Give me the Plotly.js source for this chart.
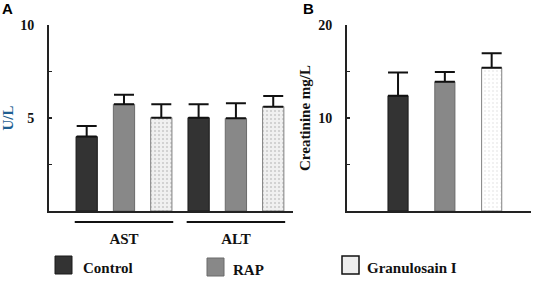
<!DOCTYPE html>
<html><head><meta charset="utf-8">
<script src="https://cdn.plot.ly/plotly-3.0.1.min.js"></script>
<style>html,body{margin:0;padding:0;background:#fff}#chart{width:536px;height:282px}</style>
</head><body><div id="chart"></div>
<script>
// ---- data ----
const enzymes = ['AST', 'ALT'];
const seriesNames = ['Control', 'RAP', 'Granulosain I'];
const controlUL = [4.0, 5.02];
const controlULErr = [0.57, 0.72];
const rapUL = [5.74, 4.98];
const rapULErr = [0.51, 0.81];
const granUL = [5.02, 5.61];
const granULErr = [0.72, 0.57];
const creatinine = [12.4, 13.9, 15.4];
const creatinineErr = [2.5, 1.05, 1.55];
const ulTicks = [0, 2.5, 5, 7.5, 10];
const ulTickText = ['', '', '5', '', '10'];
const crTicks = [0, 5, 10, 15, 20];
const crTickText = ['', '', '10', '', '20'];

// ---- styles ----
const fills = ['#333333', '#888888', '#ededed'];
const lines = ['#1a1a1a', '#6a6a6a', '#808080'];
const serif = '"Liberation Serif", "Times New Roman", Times, serif';
const patterns = [
  {shape: ''},
  {shape: ''},
  {shape: '.', fgcolor: '#c8c8c8', bgcolor: '#f0f0f0', size: 4, solidity: 0.2}
];
const ulValues = [controlUL, rapUL, granUL];
const ulErrs = [controlULErr, rapULErr, granULErr];

const errStyle = (arr) => ({type: 'data', symmetric: false, array: arr,
  arrayminus: arr.map(() => 0), color: '#111', thickness: 2, width: 10});

const traces = seriesNames.map((name, i) => ({
  type: 'bar', name: name, x: enzymes, y: ulValues[i],
  xaxis: 'x', yaxis: 'y', showlegend: false,
  marker: {color: fills[i], line: {color: lines[i], width: 1}, pattern: patterns[i]},
  error_y: errStyle(ulErrs[i])
}));
traces.push({
  type: 'bar', x: seriesNames, y: creatinine, xaxis: 'x2', yaxis: 'y2',
  width: 0.43, showlegend: false,
  marker: {color: fills, line: {color: lines, width: 1},
    pattern: {shape: ['', '', '.'], fgcolor: '#c8c8c8', bgcolor: ['#333333', '#888888', '#f0f0f0'], size: 4, solidity: 0.2}},
  error_y: errStyle(creatinineErr)
});

const W = 536, H = 282;
const px = (v) => v / W, py = (v) => 1 - v / H;

const shapes = [];
const annotations = [];
// group underlines
enzymes.forEach((e, i) => {
  shapes.push({type: 'line', xref: 'x', yref: 'paper', x0: i - 0.44, x1: i + 0.44,
    y0: py(222), y1: py(222), line: {color: '#111', width: 2}});
});
// legend (boxes + labels)
const legBoxX = [55, 207, 342];
const legTextX = [81, 231, 365];
const legY = [265, 267, 265];
seriesNames.forEach((n, i) => {
  shapes.push({type: 'rect', xref: 'paper', yref: 'paper',
    x0: px(legBoxX[i]), x1: px(legBoxX[i] + 17), y0: py(legY[i] - 9), y1: py(legY[i] + 9),
    fillcolor: fills[i], line: {color: i === 2 ? '#111' : lines[i], width: i === 2 ? 1.5 : 1}});
  annotations.push({xref: 'paper', yref: 'paper', x: px(legTextX[i]), y: py(legY[i] + 3),
    xanchor: 'left', yanchor: 'middle', showarrow: false, text: '<b>' + n + '</b>',
    font: {family: serif, size: 15, color: '#111'}});
});
// panel letters
annotations.push({xref: 'paper', yref: 'paper', x: px(0), y: py(8), xanchor: 'left', yanchor: 'middle',
  showarrow: false, text: '<b>A</b>', font: {family: '"Liberation Sans", Arial, sans-serif', size: 15, color: '#000'}});
annotations.push({xref: 'paper', yref: 'paper', x: px(301), y: py(8), xanchor: 'left', yanchor: 'middle',
  showarrow: false, text: '<b>B</b>', font: {family: '"Liberation Sans", Arial, sans-serif', size: 15, color: '#000'}});

const yTickFont = {family: serif, size: 14, color: '#111', weight: 'bold'};
const baseY = {showline: true, linecolor: '#222', linewidth: 2, ticks: 'inside', ticklen: 3,
  tickwidth: 1.5, tickcolor: '#222', showgrid: false, zeroline: false, tickfont: yTickFont,
  tickmode: 'array', domain: [py(211), py(25)], ticklabelstandoff: 10};

const layout = {
  width: W, height: H, margin: {l: 0, r: 0, t: 0, b: 0},
  paper_bgcolor: '#fff', plot_bgcolor: 'rgba(0,0,0,0)',
  barmode: 'group', bargap: 0, bargroupgap: 0.43, showlegend: false,
  xaxis: {domain: [px(49), px(293)], range: [-0.67, 1.51], anchor: 'y', showline: true,
    linecolor: '#222', linewidth: 2, ticks: '', showgrid: false, zeroline: false,
    tickfont: {family: serif, size: 15, color: '#111', weight: 'bold'}, ticklabelstandoff: 13},
  yaxis: Object.assign({}, baseY, {anchor: 'x', range: [0, 10], tickvals: ulTicks, ticktext: ulTickText,
    title: {text: '<b>U/L</b>', font: {family: serif, size: 15, color: '#1f5f92'}, standoff: 8}}),
  xaxis2: {domain: [px(347), px(531)], range: [-1.09, 2.84], anchor: 'y2', showline: true,
    linecolor: '#222', linewidth: 2, ticks: '', showticklabels: false, showgrid: false, zeroline: false},
  yaxis2: Object.assign({}, baseY, {anchor: 'x2', range: [0, 20], tickvals: crTicks, ticktext: crTickText,
    title: {text: '<b>Creatinine mg/L</b>', font: {family: serif, size: 15, color: '#111'}, standoff: 4}}),
  shapes: shapes, annotations: annotations
};

Plotly.newPlot('chart', traces, layout, {displayModeBar: false, staticPlot: true});
</script></body></html>
